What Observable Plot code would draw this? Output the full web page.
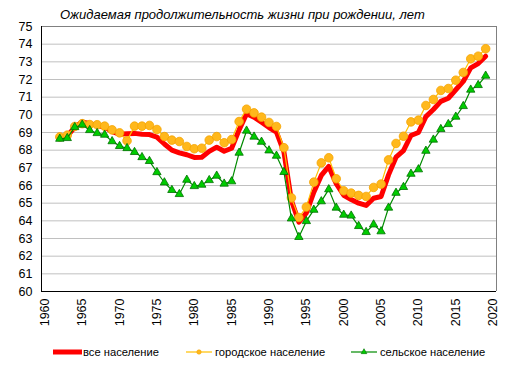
<!DOCTYPE html>
<html>
<head>
<meta charset="utf-8">
<script src="https://cdn.jsdelivr.net/npm/d3@7"></script>
<script src="https://cdn.jsdelivr.net/npm/@observablehq/plot@0.6"></script>
<style>
  html, body { margin: 0; padding: 0; background: #fff; }
  #chart { width: 510px; height: 372px; }
</style>
</head>
<body>
<div id="chart"></div>
<script>
const years = d3.range(1962, 2020);

const totalPop = [
  68.7, 68.8, 69.3, 69.6, 69.5, 69.4, 69.3, 69.05, 68.9, 68.93,
  68.95, 68.9, 68.88, 68.74, 68.35, 68.0, 67.85, 67.74, 67.59, 67.6,
  67.93, 68.17, 67.94, 68.11, 69.15, 70.06, 69.87, 69.58, 69.28, 69.02,
  67.89, 65.15, 63.93, 64.45, 65.62, 66.57, 67.08, 66.1, 65.45, 65.21,
  65.0, 64.87, 65.28, 65.38, 66.6, 67.6, 67.98, 68.83, 69.0, 69.9,
  70.3, 70.76, 70.94, 71.42, 71.89, 72.66, 72.9, 73.32
];
const urbanPop = [
  68.75, 68.85, 69.34, 69.5, 69.45, 69.44, 69.36, 69.15, 68.98, 68.53,
  69.36, 69.36, 69.4, 69.17, 68.77, 68.57, 68.49, 68.21, 68.08, 68.11,
  68.57, 68.77, 68.42, 68.6, 69.62, 70.32, 70.11, 69.87, 69.57, 69.34,
  68.14, 65.3, 64.19, 64.78, 66.19, 67.28, 67.57, 66.38, 65.7, 65.57,
  65.44, 65.38, 65.89, 66.08, 67.45, 68.38, 68.79, 69.6, 69.7, 70.53,
  70.87, 71.38, 71.49, 71.96, 72.4, 73.17, 73.32, 73.74
];
const ruralPop = [
  68.64, 68.68, 69.3, 69.44, 69.13, 68.96, 68.87, 68.5, 68.23, 68.11,
  67.89, 67.6, 67.38, 66.75, 66.17, 65.74, 65.51, 66.32, 65.96, 66.04,
  66.3, 66.55, 66.1, 66.23, 67.85, 69.1, 68.76, 68.47, 67.98, 67.68,
  66.76, 64.13, 63.08, 63.98, 64.62, 65.1, 65.78, 64.74, 64.34, 64.29,
  63.7, 63.36, 63.79, 63.4, 64.74, 65.58, 65.91, 66.66, 66.91, 67.96,
  68.59, 69.19, 69.47, 69.89, 70.49, 71.42, 71.68, 72.21
];

const yTicks = d3.range(60, 76, 1);
const xTicks = d3.range(1960, 2021, 5);
const gridTicks = d3.range(61, 75, 1);

const titleText = "Ожидаемая продолжительность жизни при рождении, лет";
const seriesNames = ["все население", "городское население", "сельское население"];

const total = years.map((year, i) => ({year, value: totalPop[i]}));
const urban = years.map((year, i) => ({year, value: urbanPop[i]}));
const rural = years.map((year, i) => ({year, value: ruralPop[i]}));

const xMin = 1959.55, xMax = 2020.45;

const chart = Plot.plot({
  width: 510,
  height: 372,
  marginTop: 26,
  marginBottom: 81,
  marginLeft: 41,
  marginRight: 14,
  style: {fontFamily: "'Liberation Sans', Arial, sans-serif", fontSize: "12.5px", color: "#000", background: "#fff"},
  x: {domain: [xMin, xMax]},
  y: {domain: [60, 75]},
  marks: [
    Plot.ruleY(gridTicks, {stroke: "#c0c0c0", strokeWidth: 1}),
    Plot.ruleY([75], {stroke: "#808080", strokeWidth: 1}),
    Plot.ruleX([xMax], {stroke: "#808080", strokeWidth: 1}),
    Plot.line(total, {x: "year", y: "value", stroke: "#ff0000", strokeWidth: 5, strokeLinejoin: "round"}),
    Plot.line(urban, {x: "year", y: "value", stroke: "#ffc000", strokeWidth: 1.2}),
    Plot.dot(urban, {x: "year", y: "value", r: 4.3, fill: "#ffb81c", stroke: "#f5a300", strokeWidth: 0.8}),
    Plot.line(rural, {x: "year", y: "value", stroke: "#008a00", strokeWidth: 1.2}),
    Plot.dot(rural, {x: "year", y: "value", symbol: "triangle", r: 3.1, fill: "#00cc00", stroke: "#006e00", strokeWidth: 0.8}),
    Plot.ruleX([xMin], {stroke: "#000", strokeWidth: 1}),
    Plot.ruleY([60], {stroke: "#000", strokeWidth: 1}),
    Plot.axisY({ticks: yTicks, tickSize: 0, tickPadding: 9, tickFormat: d => String(d), label: null}),
    Plot.axisX({ticks: xTicks, tickSize: 0, tickPadding: 7, tickRotate: -90, tickFormat: d => String(d), label: null})
  ]
});

document.getElementById("chart").appendChild(chart);

const svg = d3.select(chart);
svg.append("text")
  .attr("x", 60).attr("y", 18.5)
  .attr("text-anchor", "start")
  .attr("font-family", "'Liberation Sans', Arial, sans-serif")
  .attr("font-size", 13).attr("font-style", "italic")
  .attr("fill", "#000")
  .text(titleText);

const lg = svg.append("g")
  .attr("text-anchor", "start")
  .attr("font-family", "'Liberation Sans', Arial, sans-serif")
  .attr("font-size", 11.2);
const ly = 352;
// total
lg.append("line").attr("x1", 53).attr("x2", 82).attr("y1", ly).attr("y2", ly).attr("stroke", "#ff0000").attr("stroke-width", 5);
lg.append("text").attr("x", 83).attr("y", ly + 4).text(seriesNames[0]);
// urban
lg.append("line").attr("x1", 186).attr("x2", 212).attr("y1", ly).attr("y2", ly).attr("stroke", "#ffc000").attr("stroke-width", 1.2);
lg.append("circle").attr("cx", 199).attr("cy", ly).attr("r", 2.2).attr("fill", "#ffb81c").attr("stroke", "#f5a300").attr("stroke-width", 0.6);
lg.append("text").attr("x", 215).attr("y", ly + 4).text(seriesNames[1]);
// rural
lg.append("line").attr("x1", 351).attr("x2", 377).attr("y1", ly).attr("y2", ly).attr("stroke", "#008a00").attr("stroke-width", 1.2);
lg.append("path").attr("d", d3.symbol(d3.symbolTriangle, 14)()).attr("transform", `translate(364,${ly})`).attr("fill", "#00cc00").attr("stroke", "#006e00").attr("stroke-width", 0.6);
lg.append("text").attr("x", 380).attr("y", ly + 4).text(seriesNames[2]);
</script>
</body>
</html>
